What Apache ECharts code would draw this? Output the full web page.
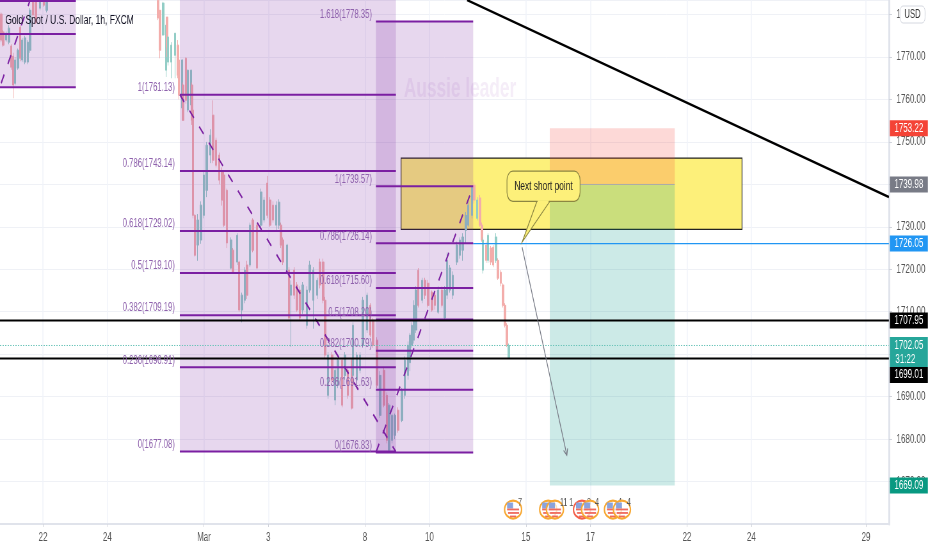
<!DOCTYPE html>
<html><head><meta charset="utf-8">
<style>html,body{margin:0;padding:0;background:#fff;overflow:hidden;width:932px;height:550px}
#c{width:1456px;height:550px;transform:scaleX(0.64);transform-origin:0 0}</style>
<script src="https://cdn.jsdelivr.net/npm/echarts@6/dist/echarts.min.js"></script>
</head><body><div id="c"></div>
<script>
const chartTitle='Gold Spot / U.S. Dollar, 1h, FXCM';
const xTickDays=[0,2,5,7,10,12,15,17,20,22,25.56];
const xTickLabels=['22','24','Mar','3','8','10','15','17','22','24','29'];
const barDay=[-1.30,-1.24,-1.15,-1.06,-0.99,-0.93,-0.87,-0.78,-0.71,-0.65,-0.56,-0.47,-0.40,-0.31,-0.22,-0.09,0.03,0.12,
3.57,3.63,3.73,3.82,3.85,3.88,3.98,4.10,4.19,4.22,4.32,4.35,4.44,4.50,4.60,4.63,4.66,4.72,4.81,4.91,5.00,5.09,5.19,5.28,5.37,5.47,5.56,5.62,5.71,5.84,5.90,6.03,6.09,6.18,6.27,6.34,6.43,6.52,6.65,6.77,6.86,6.96,7.05,7.14,7.24,7.33,7.39,7.45,7.58,7.64,7.70,7.80,7.89,7.98,8.07,8.20,8.29,8.39,8.51,8.60,8.70,8.76,8.85,8.98,9.07,9.16,9.29,9.38,9.47,9.60,9.63,9.75,9.85,9.94,10.06,10.16,10.25,10.37,10.47,10.59,10.68,10.75,10.84,10.93,11.03,11.15,11.24,11.34,11.40,11.46,11.52,11.58,11.65,11.77,11.86,11.96,12.08,12.17,12.27,12.39,12.48,12.55,12.64,12.73,12.86,12.95,13.04,13.14,13.20,13.32,13.39,13.48,13.57,13.63,13.66,13.76,13.82,13.91,13.98,14.07,14.13,14.22,14.29,14.35,14.41,14.47];
const barOpen=[1780.1,1775.9,1774,1773.5,1772.6,1770.2,1763.8,1767.4,1777,1769.3,1768.8,1768.8,1771.6,1783.4,1783.4,1781.5,1783.4,1781,
1783.4,1781,1775.2,1766.9,1779.4,1768.8,1768.8,1770.4,1772.8,1769.3,1758,1763.4,1769.7,1757.5,1758.7,1763.4,1757.5,1732.7,1725.7,1726.9,1732.7,1738.6,1746.9,1756.3,1750.4,1746.9,1742.9,1742.2,1738.6,1720.3,1724.5,1721.7,1721.7,1710.4,1712.7,1721,1721,1731.6,1730.4,1730.4,1731.6,1740.3,1736.3,1735.1,1730.4,1730.4,1730.4,1726.9,1719.8,1719.8,1713.9,1719.8,1716.3,1715.1,1710.4,1706.8,1715.1,1712.7,1713.9,1721.7,1721.7,1712.7,1690.3,1699.8,1689.2,1692.7,1698.6,1695,1696.2,1698.6,1695,1693.9,1696.2,1702.1,1705.7,1711.5,1708,1703.3,1685.6,1696.2,1690.3,1677.4,1679.7,1680.9,1686.8,1684.4,1690.3,1695,1698,1702.1,1703.3,1705.7,1719.8,1712.7,1717.4,1716.7,1714.6,1713.9,1709.9,1715.1,1708.5,1713.9,1715.1,1713.9,1721.7,1723.3,1724.5,1729.2,1730.4,1732.7,1739.8,1732,1736.8,1730.4,1719.8,1725.7,1722.1,1725,1725.2,1722.1,1722.1,1719.3,1716.3,1711.5,1706.8,1699];
const barClose=[1774,1772.8,1775.6,1776.8,1767.6,1763.4,1769.3,1771.6,1769.7,1774,1774.5,1773.5,1781,1779.9,1778.2,1783.4,1782.2,1783.4,
1779.2,1771.6,1782.7,1777.5,1772.3,1774.7,1772.8,1775.6,1765.7,1761,1769.3,1755.1,1759.8,1766.9,1766.9,1755.1,1732.7,1723.3,1731.6,1735.1,1742.2,1749.2,1751.6,1745.7,1744.5,1741,1736.3,1730.4,1726.2,1726.9,1719.3,1728,1710.4,1713.9,1719.8,1713.9,1730.4,1724.5,1720.3,1738.2,1736.3,1732.7,1730.4,1731.6,1735.1,1735.8,1725.7,1721.7,1725.7,1708.5,1716.3,1713.9,1710.4,1708.5,1716.3,1715.1,1721,1719.8,1717.4,1716.3,1712.7,1699.8,1699.8,1693.9,1696.2,1698.6,1688,1699.8,1690.3,1687.3,1706.8,1699.8,1699.8,1712.7,1713.9,1704.5,1702.1,1692.7,1695,1688,1679.7,1688,1685.6,1685.6,1682.1,1691.5,1698.6,1702.1,1704.5,1706.8,1711.5,1715.1,1711.5,1717.4,1713.9,1711.5,1710.4,1711.5,1715.1,1711.5,1715.1,1722.1,1720.3,1718.6,1725.7,1726.9,1727.6,1732.7,1735.1,1739.3,1736.3,1736.3,1730.4,1726.9,1726.9,1722.1,1728,1721.7,1721,1727.6,1717.9,1716.7,1711.5,1706.8,1702.1,1702.05];
const barLow=[1773.5,1772.4,1773.6,1773,1767,1760.3,1763.3,1767,1769,1768.8,1768.3,1768.3,1771,1779.5,1777.8,1781,1781.8,1780.5,
1778.7,1769.7,1775,1765.3,1770,1768,1765,1765,1765,1760,1757,1755,1759,1757,1758,1754,1732,1723,1722,1726,1732,1737,1745,1745,1744,1740,1735,1730,1725,1720,1719,1721,1710,1707.5,1712,1713,1720.5,1724,1720,1730,1731,1732,1730,1731,1729,1729.5,1725,1721,1719,1708,1701.7,1713,1710,1708,1709.5,1706,1714.5,1706,1713,1715.5,1712,1699,1689.5,1693,1688,1692,1687.5,1694,1689.5,1687,1694.5,1693,1695.5,1701.5,1705,1704,1701.5,1692,1685,1687.5,1679,1676.9,1679,1680,1681.5,1684,1689.5,1694,1696,1701.5,1702.5,1705,1711,1712,1713,1711,1710,1710.5,1709.5,1711,1708,1713,1714.5,1713,1721,1722.5,1722,1726,1730,1732,1735.5,1731.5,1730,1726.5,1719,1721.5,1721.5,1721,1720.5,1721.5,1717.5,1716,1711,1706.3,1701.7,1698.9];
const barHigh=[1780.5,1776.3,1776,1777.5,1773,1771,1770,1772,1777.5,1774.5,1775,1774,1781.5,1783.4,1783.4,1783.4,1783.4,1783.4,
1783.4,1781,1783,1777.5,1779.4,1775,1773.5,1775.6,1774,1770,1769.5,1764,1770,1767,1767,1764,1758,1733,1733,1736,1743,1750,1753,1759.8,1751,1747.5,1744,1743,1739,1727.5,1725,1728.5,1722,1714.5,1720.5,1722,1731,1732,1731,1739,1737,1742,1737,1736,1736,1736.5,1731,1727.5,1726,1720.5,1717.4,1720.5,1717,1716,1717,1716,1722,1720.5,1718,1722.5,1722.5,1713.5,1700.5,1700.5,1697,1699,1699,1700.5,1697,1699,1707.5,1700.5,1700.5,1713.5,1714.5,1712,1708.5,1704,1696,1697,1691,1688.5,1686,1686,1687.5,1692,1699.5,1703,1705,1707.5,1712.7,1716,1720.3,1718,1718,1717.5,1715,1714.5,1716,1716,1716,1724,1721,1719.5,1726.5,1727.5,1728.5,1733.5,1736,1739.6,1740.5,1737,1737.5,1731,1727.5,1726.5,1728.5,1725.5,1725.7,1728.5,1722.6,1719.8,1716.7,1712,1707.3,1702.5];

const fibALabels=['1(1761.13)','0.786(1743.14)','0.618(1729.02)','0.5(1719.10)','0.382(1709.19)','0.236(1696.91)','0(1677.08)'];
const fibAPrices=[1761.13,1743.14,1729.02,1719.10,1709.19,1696.91,1677.08];
const fibBLabels=['1.618(1778.35)','1(1739.57)','0.786(1726.14)','0.618(1715.60)','0.5(1708.20)','0.382(1700.79)','0.236(1691.63)','0(1676.83)'];
const fibBPrices=[1778.35,1739.57,1726.14,1715.60,1708.20,1700.79,1691.63,1676.83];
const fibCPrices=[1783.2,1775.4,1762.9];
const fibADays=[4.25,10.96], fibBDays=[10.34,13.36], fibCDays=[-1.335,1.02];
const hLinePrices=[1707.95,1699.01];
const lastPrice=1702.05;
const entryPrice=1739.98, stopPrice=1753.22, targetPrice=1669.09;
const tagTexts=['1753.22','1739.98','1726.05','1707.95','1702.05','1699.01','1669.09'];
const tagPrices=[1753.22,1739.98,1726.05,1707.95,1702.05,1699.01,1669.09];
const eventDays=[14.60,15.69,15.90,16.74,16.99,17.70,17.98];
const eventCounts=['7','','11 1','8','4','4','4'];

const K=1/0.64;
const xMin=-1.335,xMax=26.27,yMin=1660,yMax=1783.43;
const FONT='"Liberation Sans",sans-serif';
const PUR='#7b1fa2', FIBFILL='rgba(123,31,162,0.18)', FIBTEXT='#8f62ad', YEL='#fdf07a';
const tagColors=['#f44336','#787b86','#2196f3','#000000','#26a69a','#000000','#089981'];
const tagPixelCenter={'1699.01':375};

function custom(z,rows,render,clip){
  return {type:'custom',coordinateSystem:'cartesian2d',z,silent:true,clip:clip!==false,
    data:rows,encode:{x:0,y:1},animation:false,renderItem:render};
}
function rectSeries(z,rows,style){
  return custom(z,rows,(p,api)=>{
    const r=rows[p.dataIndex],a=api.coord([r[0],r[2]]),b=api.coord([r[1],r[3]]);
    return {type:'rect',shape:{x:a[0],y:a[1],width:b[0]-a[0],height:b[1]-a[1]},style};
  });
}
function segSeries(z,rows,style){
  return custom(z,rows,(p,api)=>{
    const r=rows[p.dataIndex],a=api.coord([r[0],r[1]]),b=api.coord([r[2],r[3]]);
    return {type:'line',shape:{x1:a[0],y1:a[1],x2:b[0],y2:b[1]},style:Object.assign({fill:null},style)};
  });
}
function fibText(z,labels,prices,day,off){
  const rows=prices.map(p=>[day,p]);
  return custom(z,rows,(p,api)=>{
    const a=api.coord(rows[p.dataIndex]);
    return {type:'text',x:a[0]-off*K,y:a[1]-7,style:{text:labels[p.dataIndex],fill:FIBTEXT,font:'12px '+FONT,textAlign:'right',textVerticalAlign:'middle'}};
  },false);
}
const hSeg=(days,prices)=>prices.map(p=>[days[0],p,days[1],p]);

const candles=barDay.map((d,i)=>[d,barOpen[i],barClose[i],barLow[i],barHigh[i]]);
const calloutBox=[14.41,16.68,1743.1,1736];
const calloutTail=[[15.34,1736],[15.74,1736],[14.88,1726.4]];

const series=[
  rectSeries(1,[[11.12,21.71,1746.2,1729.4]],{fill:YEL,stroke:'#222',lineWidth:1.2}),
  {type:'candlestick',z:2,silent:true,animation:false,barWidth:3,encode:{x:0,y:[1,2,3,4]},data:candles,
   itemStyle:{color:'#92cdc6',color0:'#f3adab',borderColor:'#92cdc6',borderColor0:'#f3adab',borderWidth:1}},
  rectSeries(3,[[fibADays[0],fibADays[1],yMax,fibAPrices[6]],[fibBDays[0],fibBDays[1],fibBPrices[0],fibBPrices[7]],[fibCDays[0],fibCDays[1],yMax,fibCPrices[2]]],{fill:FIBFILL}),
  rectSeries(3,[[15.74,19.62,stopPrice,entryPrice]],{fill:'rgba(244,67,54,0.2)'}),
  rectSeries(3,[[15.74,19.62,entryPrice,targetPrice]],{fill:'rgba(0,150,136,0.2)'}),
  segSeries(4,[[15.74,entryPrice,19.62,entryPrice]],{stroke:'#aaa',lineWidth:1}),
  segSeries(4,[[13.36,1726.05,xMax,1726.05]],{stroke:'#2196f3',lineWidth:1.4}),
  segSeries(5,[...hSeg(fibADays,fibAPrices),...hSeg(fibBDays,fibBPrices),...hSeg(fibCDays,fibCPrices)],{stroke:PUR,lineWidth:2}),
  segSeries(5,[[4.25,1761.13,10.96,1677],[10.34,1676.83,13.36,1739.57],[-1.30,1763.8,-0.40,1783.4]],{stroke:PUR,lineWidth:2,lineDash:[10,12]}),
  segSeries(6,[[xMin,lastPrice,xMax,lastPrice]],{stroke:'#6cc5ba',lineWidth:1,lineDash:[2,2]}),
  segSeries(6,hSeg([xMin,xMax],hLinePrices),{stroke:'#000',lineWidth:2}),
  segSeries(6,[[13.17,1783.4,xMax,1737]],{stroke:'#000',lineWidth:2.5}),
  fibText(7,fibALabels,fibAPrices,fibADays[0],5),
  fibText(7,fibBLabels,fibBPrices,fibBDays[0],4),
  custom(7,[[14.88,1725.2,16.27,1676.2]],(p,api)=>{
    const r=[14.88,1725.2,16.27,1676.2],a=api.coord([r[0],r[1]]),b=api.coord([r[2],r[3]]);
    const ang=Math.atan2(b[1]-a[1],b[0]-a[0]),s=7;
    const w=t=>[b[0]-s*Math.cos(ang+t),b[1]-s*Math.sin(ang+t)];
    const st={stroke:'#787b86',lineWidth:1.2,fill:null};
    return {type:'group',children:[
      {type:'line',shape:{x1:a[0],y1:a[1],x2:b[0],y2:b[1]},style:st},
      {type:'polyline',shape:{points:[w(0.5),b,w(-0.5)]},style:st}]};
  }),
  custom(8,[[calloutBox[0],calloutBox[2]]],(p,api)=>{
    const a=api.coord([calloutBox[0],calloutBox[2]]),b=api.coord([calloutBox[1],calloutBox[3]]);
    const t=calloutTail.map(c=>api.coord(c));
    const st={fill:YEL,stroke:'#8c8642',lineWidth:1.2};
    return {type:'group',children:[
      {type:'polygon',shape:{points:t},style:st},
      {type:'rect',shape:{x:a[0],y:a[1],width:b[0]-a[0],height:b[1]-a[1],r:9},style:st},
      {type:'polygon',shape:{points:[[t[0][0]+1,t[0][1]-1],[t[1][0]-1,t[1][1]-1],[t[1][0]-3,t[1][1]+2],[t[0][0]+1,t[0][1]+2]]},style:{fill:YEL}},
      {type:'text',x:(a[0]+b[0])/2,y:(a[1]+b[1])/2,style:{text:'Next short point',fill:'#222',font:'13px '+FONT,textAlign:'center',textVerticalAlign:'middle'}}
    ]};
  },false),
  custom(9,eventDays.map(d=>[d,1663.4]),(p,api)=>{
    const i=p.dataIndex,c=api.coord([eventDays[i],1663.4]),x=c[0],y=c[1];
    const ring=(i===3)?'#f4604a':'#f7a833';
    const u=K;
    return {type:'group',children:[
      {type:'ellipse',shape:{cx:x,cy:y,rx:8.5*u,ry:9},style:{fill:'rgba(255,255,255,0.7)',stroke:ring,lineWidth:2.2}},
      {type:'rect',shape:{x:x-6*u,y:y-7,width:6*u,height:6},style:{fill:'#8aa3dc'}},
      {type:'rect',shape:{x:x-6*u,y:y-1,width:12*u,height:1.8},style:{fill:'#ef6a5c'}},
      {type:'rect',shape:{x:x-5*u,y:y+2.5,width:11*u,height:1.8},style:{fill:'#ef6a5c'}},
      {type:'rect',shape:{x:x-3*u,y:y+6,width:6*u,height:1.6},style:{fill:'#ef6a5c'}},
      {type:'text',x:x+5*u,y:y-7,style:{text:eventCounts[i],fill:'#555',font:'11px '+FONT,textAlign:'left',textVerticalAlign:'middle'}}
    ]};
  },false),
  custom(20,tagPrices.map(p=>[xMax,p]),(p,api)=>{
    const i=p.dataIndex,c=api.coord([xMax,tagPrices[i]]);
    const x=c[0]+1*K,cy=tagPixelCenter[tagTexts[i]]||c[1];
    const two=tagTexts[i]==='1702.05',top=two?cy-8.5:cy-8,h=two?30:16;
    const kids=[{type:'rect',shape:{x,y:top,width:38*K,height:h},style:{fill:tagColors[i]}},
      {type:'text',x:x+19*K,y:cy,style:{text:tagTexts[i],fill:'#fff',font:'12.5px '+FONT,textAlign:'center',textVerticalAlign:'middle'}}];
    if(two) kids.push({type:'text',x:x+15.5*K,y:cy+14,style:{text:'31:22',fill:'#fff',font:'12.5px '+FONT,textAlign:'center',textVerticalAlign:'middle'}});
    return {type:'group',children:kids};
  },false)
];

const chart=echarts.init(document.getElementById('c'),null,{renderer:'canvas'});
chart.setOption({
  animation:false,backgroundColor:'#fff',
  title:{text:chartTitle,left:2*K,top:9,textStyle:{fontFamily:FONT,fontSize:13.3,fontWeight:'normal',color:'#111122'},z:30},
  grid:{left:0,right:43*K,top:0,bottom:26,containLabel:false,outerBoundsMode:'none'},
  xAxis:{type:'value',min:xMin,max:xMax,
    axisLine:{onZero:false,lineStyle:{color:'#e0e3eb',width:2}},
    axisTick:{length:3,lineStyle:{color:'#d0d3db'},customValues:xTickDays},
    splitLine:{show:true,lineStyle:{color:'#f0f3fa',width:1.5}},
    axisLabel:{customValues:xTickDays,margin:7,color:'#555',fontFamily:FONT,fontSize:12.5,
      formatter:v=>{const i=xTickDays.findIndex(d=>Math.abs(d-v)<1e-6);return i<0?'':xTickLabels[i];}}},
  yAxis:{type:'value',position:'right',min:yMin,max:yMax,interval:10,
    axisLine:{show:true,onZero:false,lineStyle:{color:'#e0e3eb',width:3}},
    axisTick:{show:true,length:5,lineStyle:{color:'#d0d3db'}},
    splitLine:{show:true,lineStyle:{color:'#eff1f6'}},
    axisLabel:{margin:12,color:'#555',fontFamily:FONT,fontSize:12.5,showMinLabel:false,showMaxLabel:false,formatter:v=>v.toFixed(2)}},
  graphic:[
    {type:'rect',z:100,shape:{x:900*K,y:6,width:25*K,height:17,r:5},style:{fill:'#fff',stroke:'#d5d8e0',lineWidth:1}},
    {type:'text',z:101,x:912.5*K,y:14.5,style:{text:'USD',fill:'#333',font:'12px '+FONT,textAlign:'center',textVerticalAlign:'middle'}},
    {type:'text',z:1,x:460*K,y:90,style:{text:'Aussie leader',fill:'rgba(123,31,162,0.08)',font:'bold 27px '+FONT,textAlign:'center',textVerticalAlign:'middle'}}
  ],
  series
});
</script></body></html>
